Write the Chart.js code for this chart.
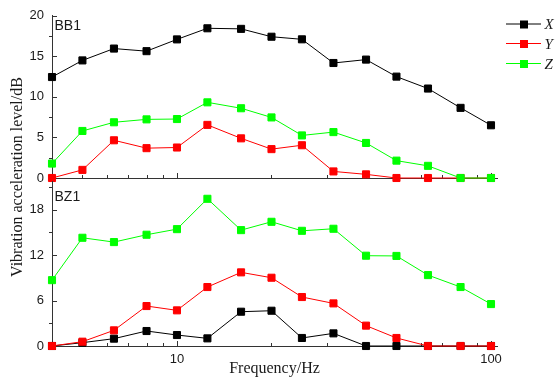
<!DOCTYPE html>
<html>
<head>
<meta charset="utf-8">
<script src="https://cdn.jsdelivr.net/npm/chart.js@4"></script>
<style>
  body { margin: 0; background: #fff; }
  #wrap { position: relative; width: 555px; height: 381px; }
  #wrap canvas { position: absolute; left: 0; top: 0; }
</style>
</head>
<body>
<div id="wrap">
  <canvas id="topChart" width="555" height="381"></canvas>
  <canvas id="bottomChart" width="555" height="381"></canvas>
</div>
<script>
'use strict';

// 1/3 octave band centre frequencies (Hz)
let freqs = [4, 5, 6.3, 8, 10, 12.5, 16, 20, 25, 31.5, 40, 50, 63, 80, 100];

// BB1 panel
let bb1X = [12.45, 14.5, 15.96, 15.64, 17.09, 18.46, 18.39, 17.42, 17.1, 14.18, 14.6, 12.5, 11.03, 8.65, 6.5];
let bb1Y = [0, 1.0, 4.65, 3.68, 3.76, 6.55, 4.89, 3.56, 4.04, 0.81, 0.45, 0, 0, 0, 0];
let bb1Z = [1.78, 5.8, 6.87, 7.23, 7.27, 9.33, 8.6, 7.47, 5.25, 5.66, 4.32, 2.14, 1.5, 0, 0];

// BZ1 panel
let bz1X = [0, 0.44, 0.97, 1.98, 1.45, 1.01, 4.53, 4.66, 1.06, 1.67, 0, 0, 0, 0, 0];
let bz1Y = [0, 0.57, 2.07, 5.28, 4.71, 7.79, 9.73, 9.02, 6.47, 5.63, 2.69, 1.06, 0, 0, 0];
let bz1Z = [8.7, 14.3, 13.73, 14.7, 15.44, 19.45, 15.31, 16.41, 15.22, 15.49, 11.93, 11.9, 9.37, 7.79, 5.54];

let seriesNames = ['X', 'Y', 'Z'];
let seriesColors = ['#000000', '#ff0000', '#00ff00'];

let xTicks = [10, 100];
let xMinorTicks = [4, 5, 6, 7, 8, 9, 20, 30, 40, 50, 60, 70, 80, 90];
let yTicksTop = [0, 5, 10, 15, 20];
let yMinorTop = [2.5, 7.5, 12.5, 17.5];
let yTicksBottom = [0, 6, 12, 18];
let yMinorBottom = [3, 9, 15, 21];

let axisColor = '#333333';
let textColor = '#1a1a1a';

function makeDataset(i, values) {
  return {
    label: seriesNames[i],
    data: values.map((v, k) => ({ x: freqs[k], y: v })),
    borderColor: seriesColors[i],
    backgroundColor: seriesColors[i],
    borderWidth: 1,
    pointStyle: 'rect',
    pointRadius: 5,
    pointBorderWidth: 1,
    pointBorderColor: seriesColors[i],
    pointBackgroundColor: seriesColors[i],
    tension: 0,
    clip: false,
    order: 2 - i
  };
}

// inward tick marks like the original plotting package
const tickMarks = {
  id: 'tickMarks',
  beforeDatasetsDraw(chart, args, opts) {
    let ctx = chart.ctx;
    let xs = chart.scales.x;
    let ys = chart.scales.y;
    let area = chart.chartArea;
    ctx.save();
    ctx.strokeStyle = axisColor;
    ctx.lineWidth = 1;
    ctx.beginPath();
    xMinorTicks.forEach(v => {
      let px = Math.round(xs.getPixelForValue(v)) + 0.5;
      ctx.moveTo(px, area.bottom);
      ctx.lineTo(px, area.bottom - 3);
    });
    xTicks.forEach(v => {
      let px = Math.round(xs.getPixelForValue(v)) + 0.5;
      ctx.moveTo(px, area.bottom);
      ctx.lineTo(px, area.bottom - 5);
    });
    opts.major.forEach(v => {
      let py = Math.round(ys.getPixelForValue(v)) + 0.5;
      ctx.moveTo(area.left, py);
      ctx.lineTo(area.left + 5, py);
    });
    opts.minor.forEach(v => {
      if (v > ys.max) return;
      let py = Math.round(ys.getPixelForValue(v)) + 0.5;
      ctx.moveTo(area.left, py);
      ctx.lineTo(area.left - 3, py);
    });
    ctx.stroke();
    ctx.restore();
  }
};

const panelText = {
  id: 'panelText',
  afterDraw(chart, args, opts) {
    let ctx = chart.ctx;
    ctx.save();
    ctx.fillStyle = textColor;
    ctx.font = '14px "Liberation Sans", Arial, sans-serif';
    ctx.textBaseline = 'alphabetic';
    ctx.fillText(opts.label, 54.5, opts.baseline);

    if (opts.legend) {
      chart.data.datasets.forEach((ds, i) => {
        let y = opts.legendRows[i];
        ctx.strokeStyle = ds.borderColor;
        ctx.lineWidth = 1;
        ctx.beginPath();
        ctx.moveTo(506, y + 0.5);
        ctx.lineTo(541, y + 0.5);
        ctx.stroke();
        ctx.fillStyle = ds.backgroundColor;
        ctx.fillRect(520, y - 3, 8, 8);
        ctx.fillStyle = textColor;
        ctx.font = 'italic 15px "Liberation Serif", "Times New Roman", serif';
        ctx.fillText(ds.label, 544.5, y + 5.5);
      });
    }

    if (opts.yTitle) {
      ctx.translate(22.3, 177);
      ctx.rotate(-Math.PI / 2);
      ctx.textAlign = 'center';
      ctx.fillStyle = textColor;
      ctx.font = '16px "Liberation Serif", "Times New Roman", serif';
      ctx.fillText(opts.yTitle, 0, 0);
    }
    ctx.restore();
  }
};

function makeConfig(datasets, yMax, yTicks, yMinor, isBottom, label, baseline) {
  return {
    type: 'line',
    data: { datasets: datasets },
    options: {
      responsive: false,
      animation: false,
      events: [],
      layout: {
        padding: { left: 0, right: 58, top: isBottom ? 181 : 13, bottom: isBottom ? 0 : 203 }
      },
      plugins: {
        legend: { display: false },
        tooltip: { enabled: false },
        tickMarks: { major: yTicks, minor: yMinor },
        panelText: {
          label: label,
          baseline: baseline,
          legend: !isBottom,
          legendRows: [23.5, 43, 63],
          yTitle: isBottom ? '' : 'Vibration acceleration level/dB'
        }
      },
      scales: {
        x: {
          type: 'logarithmic',
          min: 4,
          max: 104.5,
          grid: { display: false, drawTicks: false },
          border: { display: true, color: axisColor, width: 1 },
          afterBuildTicks: (scale) => { scale.ticks = xTicks.map(v => ({ value: v })); },
          afterFit: (scale) => { scale.height = isBottom ? 35 : 0; },
          ticks: {
            display: isBottom,
            autoSkip: false,
            maxRotation: 0,
            padding: 6,
            color: textColor,
            font: { family: '"Liberation Sans", Arial, sans-serif', size: 13 },
            callback: (v) => String(v)
          },
          title: {
            display: isBottom,
            text: 'Frequency/Hz',
            color: textColor,
            padding: { top: 0, bottom: 3 },
            font: { family: '"Liberation Serif", "Times New Roman", serif', size: 16 }
          }
        },
        y: {
          min: 0,
          max: yMax,
          grid: { display: false, drawTicks: false },
          border: { display: true, color: axisColor, width: 1 },
          afterBuildTicks: (scale) => { scale.ticks = yTicks.map(v => ({ value: v })); },
          afterFit: (scale) => { scale.width = 52; },
          ticks: {
            padding: 8,
            color: textColor,
            font: { family: '"Liberation Sans", Arial, sans-serif', size: 13 }
          }
        }
      }
    },
    plugins: [tickMarks, panelText]
  };
}

let topSets = [makeDataset(0, bb1X), makeDataset(1, bb1Y), makeDataset(2, bb1Z)];
let bottomSets = [makeDataset(0, bz1X), makeDataset(1, bz1Y), makeDataset(2, bz1Z)];

new Chart(document.getElementById('topChart'),
  makeConfig(topSets, 20, yTicksTop, yMinorTop, false, 'BB1', 30));
new Chart(document.getElementById('bottomChart'),
  makeConfig(bottomSets, 21.8, yTicksBottom, yMinorBottom, true, 'BZ1', 200.5));
</script>
</body>
</html>
